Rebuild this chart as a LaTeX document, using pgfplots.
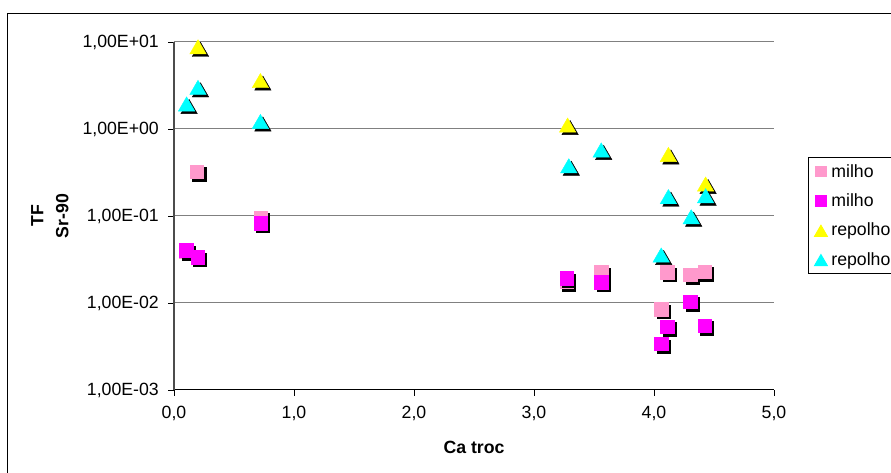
\documentclass[border=0pt]{standalone}
\usepackage{fontspec}
\setmainfont{Liberation Sans}
\usepackage{pgfplots}
\usepackage{pgfplotstable}
\pgfplotsset{compat=1.18}

\definecolor{milhoA}{HTML}{FF99CC}
\definecolor{milhoB}{HTML}{FF00FF}
\definecolor{repA}{HTML}{FFFF00}
\definecolor{repB}{HTML}{00FFFF}
\definecolor{gridc}{HTML}{808080}

% milho (light pink)
\pgfplotstableread{
x y
0.10 0.0395
0.19 0.323
0.72 0.096
3.27 0.0176
3.56 0.0225
4.06 0.0085
4.11 0.0225
4.30 0.0210
4.42 0.0229
}\milhoa
% milho (magenta)
\pgfplotstableread{
x y
0.10 0.0406
0.195 0.0335
0.72 0.0824
3.27 0.0192
3.56 0.0173
4.06 0.00338
4.11 0.00534
4.30 0.0104
4.42 0.0055
}\milhob
% repolho (yellow)
\pgfplotstableread{
x y
0.20 8.8
0.72 3.6
3.28 1.11
4.12 0.51
4.43 0.233
}\repolhoa
% repolho (cyan)
\pgfplotstableread{
x y
0.105 1.94
0.20 3.01
0.72 1.22
3.29 0.378
3.56 0.574
4.06 0.0356
4.12 0.167
4.31 0.098
4.43 0.171
}\repolhob

\begin{document}
\begin{tikzpicture}[x=1bp,y=1bp]
\useasboundingbox (0,0) rectangle (891,473);
\begin{scope}
\clip (0,0) rectangle (891,473);
\draw[black, line width=0.9bp] (7,-20) rectangle (930,460);
\begin{axis}[
  at={(174bp,83bp)}, anchor=south west,
  scale only axis, width=600bp, height=348bp,
  xmin=0, xmax=5,
  ymode=log, ymin=1e-3, ymax=10,
  axis x line*=bottom, axis y line*=left,
  axis line style={-},
  x axis line style={black, line width=1bp},
  y axis line style={black!70, line width=1.5bp},
  tick align=outside,
  major tick length=6bp,
  tick style={black, line width=0.8bp},
  yminorticks=false,
  xtick={0,1,2,3,4,5},
  xticklabels={{0,0},{1,0},{2,0},{3,0},{4,0},{5,0}},
  ytick={1e-3,1e-2,1e-1,1,10},
  yticklabels={{1,00E-03},{1,00E-02},{1,00E-01},{1,00E+00},{1,00E+01}},
  ymajorgrids,
  grid style={gridc, line width=1bp},
  tick label style={font=\fontsize{17.7bp}{21bp}\selectfont},
  yticklabel style={inner sep=0pt, anchor=east, xshift=-9bp},
  xticklabel style={inner sep=0pt, anchor=north, yshift=-10bp},
  xlabel={\bfseries Ca troc},
  xlabel style={font=\fontsize{17.7bp}{21bp}\selectfont, at={(axis description cs:0.5,-0.164)}, anchor=center},
  ylabel={\bfseries TF\\\bfseries Sr-90},
  ylabel style={font=\fontsize{17.7bp}{25bp}\selectfont, align=center, at={(axis description cs:-0.207,0.5)}, anchor=center},
  legend style={at={(axis description cs:1.0567,0.6695)}, anchor=north west,
    draw=black, line width=0.9bp, font=\fontsize{17.7bp}{21bp}\selectfont,
    row sep=11bp, inner xsep=3bp, inner ysep=5bp},
  legend cell align=left,
  legend image code/.code={\path (0bp,0bp) (17bp,0bp);
    \draw[#1, every mark/.append style={scale=0.78}] plot coordinates {(9bp,0bp)};},
  clip=false,
]
% milho light
\addplot[only marks, mark=square*, mark size=6.7bp, mark options={draw=black, fill=black, xshift=2.5bp, yshift=-2.5bp}, forget plot] table {\milhoa};
\addplot[only marks, mark=square*, mark size=6.7bp, mark options={draw=milhoA, fill=milhoA}] table {\milhoa};
\addlegendentry{milho}
% milho magenta
\addplot[only marks, mark=square*, mark size=6.7bp, mark options={draw=black, fill=black, xshift=2.5bp, yshift=-2.5bp}, forget plot] table {\milhob};
\addplot[only marks, mark=square*, mark size=6.7bp, mark options={draw=milhoB, fill=milhoB}] table {\milhob};
\addlegendentry{milho}
% repolho yellow
\addplot[only marks, mark=triangle*, mark size=9.5bp, mark options={draw=black, fill=black, xshift=2.5bp, yshift=-4.9bp}, forget plot] table {\repolhoa};
\addplot[only marks, mark=triangle*, mark size=9.5bp, mark options={draw=repA, fill=repA, yshift=-2.4bp}] table {\repolhoa};
\addlegendentry{repolho}
% repolho cyan
\addplot[only marks, mark=triangle*, mark size=9.5bp, mark options={draw=black, fill=black, xshift=2.5bp, yshift=-4.9bp}, forget plot] table {\repolhob};
\addplot[only marks, mark=triangle*, mark size=9.5bp, mark options={draw=repB, fill=repB, yshift=-2.4bp}] table {\repolhob};
\addlegendentry{repolho}
\end{axis}
\end{scope}
\end{tikzpicture}
\end{document}
